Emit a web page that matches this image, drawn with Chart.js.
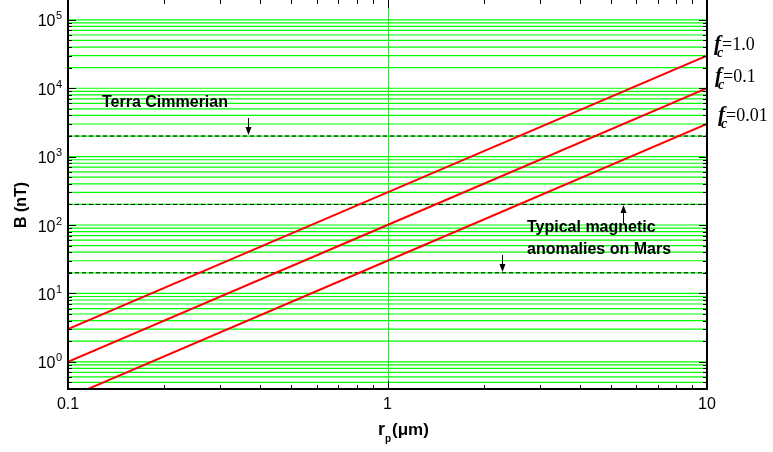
<!DOCTYPE html>
<html>
<head>
<meta charset="utf-8">
<script src="https://cdn.jsdelivr.net/npm/chart.js@4.4.0/dist/chart.umd.min.js"></script>
<style>
    body { margin: 0; background: #fff; }
    #wrap { width: 773px; height: 452px; }
</style>
</head>
<body>
<div id="wrap"><canvas id="FieldVsRadiusChart" width="773" height="452"></canvas></div>
<script>
// particle radius (um) and field B (nT) for the three f_c lines
var rp = [0.1, 1, 10];
var bFc1 = [3, 300, 30000];
var bFc01 = [1, 100, 10000];
var bFc001 = [0.3, 30, 3000];
var fcLabels = ['1.0', '0.1', '0.01'];
// dashed reference levels (nT)
var dashLevels = [2000, 200, 20];
var xTickLabels = ['0.1', '1', '10'];
var yTickExponents = ['0', '1', '2', '3', '4', '5'];
var xRange = [0.1, 10];
var yRange = [0.4, 1.95e5];

var SANS = "'Liberation Sans', Arial, sans-serif";
var SERIF = "'Liberation Serif', 'Times New Roman', serif";

function logTicks(min, max) {
    var out = [];
    var e0 = Math.floor(Math.log10(min));
    var e1 = Math.ceil(Math.log10(max));
    for (var e = e0; e <= e1; e++) {
        for (var m = 1; m <= 9; m++) {
            var v = m * Math.pow(10, e);
            if (v >= min * 0.999 && v <= max * 1.001) {
                out.push({ value: v, major: m === 1 });
            }
        }
    }
    return out;
}

function pts(xs, ys) {
    return xs.map(function (x, i) { return { x: x, y: ys[i] }; });
}

function line(c, x1, y1, x2, y2) {
    c.beginPath();
    c.moveTo(x1, y1);
    c.lineTo(x2, y2);
    c.stroke();
}

function arrow(c, x, yFrom, yTo) {
    var dir = yTo > yFrom ? 1 : -1;
    c.lineWidth = 1;
    line(c, x, yFrom, x, yTo - dir * 6);
    c.beginPath();
    c.moveTo(x, yTo);
    c.lineTo(x - 3, yTo - dir * 8);
    c.lineTo(x + 3, yTo - dir * 8);
    c.closePath();
    c.fill();
}

var datasets = [
    { data: pts(rp, bFc1), borderColor: '#ff0000', borderWidth: 2 },
    { data: pts(rp, bFc01), borderColor: '#ff0000', borderWidth: 2 },
    { data: pts(rp, bFc001), borderColor: '#ff0000', borderWidth: 2 }
];
dashLevels.forEach(function (lv) {
    datasets.push({
        data: pts(xRange, [lv, lv]),
        borderColor: '#000000',
        borderWidth: 1,
        borderDash: [4, 3]
    });
});

// green grid: every y tick, and only x = 1
var gridPlugin = {
    id: 'gridPlugin',
    beforeDatasetsDraw: function (chart) {
        var c = chart.ctx, a = chart.chartArea;
        var xs = chart.scales.x, ys = chart.scales.y;
        c.save();
        c.strokeStyle = '#00ff00';
        c.lineWidth = 1.2;
        logTicks(yRange[0], yRange[1]).forEach(function (t) {
            var py = ys.getPixelForValue(t.value);
            if (py > a.bottom - 1) return;
            line(c, a.left, py, a.right, py);
        });
        c.lineWidth = 1;
        var px = Math.round(xs.getPixelForValue(1)) + 0.5;
        line(c, px, a.top + 8, px, a.bottom);
        c.restore();
    }
};

var framePlugin = {
    id: 'framePlugin',
    afterDraw: function (chart) {
        var c = chart.ctx, a = chart.chartArea;
        var xs = chart.scales.x, ys = chart.scales.y;
        c.save();
        c.strokeStyle = '#000';
        c.fillStyle = '#000';
        c.lineWidth = 1;

        // tick marks, inward, on all four sides
        logTicks(xRange[0], xRange[1]).forEach(function (t) {
            var px = Math.round(xs.getPixelForValue(t.value)) + 0.5;
            var len = t.major ? 8 : 4;
            line(c, px, a.bottom, px, a.bottom - len);
            line(c, px, a.top, px, a.top + len);
        });
        logTicks(yRange[0], yRange[1]).forEach(function (t) {
            var py = Math.round(ys.getPixelForValue(t.value)) + 0.5;
            var len = t.major ? 8 : 4;
            line(c, a.left, py, a.left + len, py);
            line(c, a.right, py, a.right - len, py);
        });

        // axis lines
        c.lineWidth = 2;
        c.beginPath();
        c.moveTo(a.left, a.top);
        c.lineTo(a.left, a.bottom);
        c.lineTo(a.right, a.bottom);
        c.lineTo(a.right, a.top);
        c.stroke();

        // x tick labels
        c.font = '16px ' + SANS;
        c.textAlign = 'center';
        c.textBaseline = 'middle';
        xTickLabels.forEach(function (lb) {
            c.fillText(lb, xs.getPixelForValue(parseFloat(lb)), 405);
        });

        // y tick labels 10^n
        yTickExponents.forEach(function (ex) {
            var py = ys.getPixelForValue(Math.pow(10, parseInt(ex, 10)));
            c.textAlign = 'right';
            c.textBaseline = 'alphabetic';
            c.font = '16px ' + SANS;
            c.fillText('10', 55.5, py + 6.5);
            c.textAlign = 'left';
            c.font = '11px ' + SANS;
            c.fillText(ex, 56, py - 0.5);
        });

        // axis titles
        c.save();
        c.translate(22, 205);
        c.rotate(-Math.PI / 2);
        c.textAlign = 'center';
        c.textBaseline = 'middle';
        c.font = 'bold 16px ' + SANS;
        c.fillText('B (nT)', 0, 0);
        c.restore();

        c.textAlign = 'left';
        c.textBaseline = 'alphabetic';
        c.font = 'bold 18px ' + SANS;
        c.fillText('r', 378, 435);
        c.font = 'bold 10px ' + SANS;
        c.fillText('p', 385, 442);
        c.font = 'bold 17px ' + SANS;
        c.fillText('(\u03bcm)', 392, 435);

        // f_c labels
        var fcY = [50, 82, 121];
        var fcX = [714, 715, 718];
        fcLabels.forEach(function (v, i) {
            c.font = 'italic bold 21px ' + SERIF;
            c.fillText('f', fcX[i], fcY[i]);
            c.font = 'italic bold 14px ' + SERIF;
            c.fillText('c', fcX[i] + 3, fcY[i] + 7);
            c.font = '18px ' + SERIF;
            c.fillText('=' + v, fcX[i] + 8, fcY[i]);
        });

        // annotations
        c.font = 'bold 16px ' + SANS;
        c.textBaseline = 'middle';
        c.fillText('Terra Cimmerian', 102, 103);
        c.fillText('Typical magnetic', 527, 228);
        c.fillText('anomalies on Mars', 527, 250);

        arrow(c, 248.5, 118, 135);
        arrow(c, 623.5, 223, 205);
        arrow(c, 502.5, 255, 272);

        c.restore();
    }
};

var ctx = document.getElementById('FieldVsRadiusChart').getContext('2d');
window.FieldChart = new Chart(ctx, {
    type: 'line',
    data: { datasets: datasets },
    options: {
        responsive: false,
        animation: false,
        layout: { padding: { left: 68, right: 66, top: 0, bottom: 63 } },
        elements: { point: { radius: 0 }, line: { tension: 0 } },
        plugins: { legend: { display: false }, tooltip: { enabled: false } },
        scales: {
            x: {
                type: 'logarithmic',
                min: xRange[0],
                max: xRange[1],
                ticks: { display: false },
                border: { display: false },
                grid: { display: false, drawTicks: false }
            },
            y: {
                type: 'logarithmic',
                min: yRange[0],
                max: yRange[1],
                ticks: { display: false },
                border: { display: false },
                grid: { display: false, drawTicks: false }
            }
        }
    },
    plugins: [gridPlugin, framePlugin]
});
</script>
</body>
</html>
